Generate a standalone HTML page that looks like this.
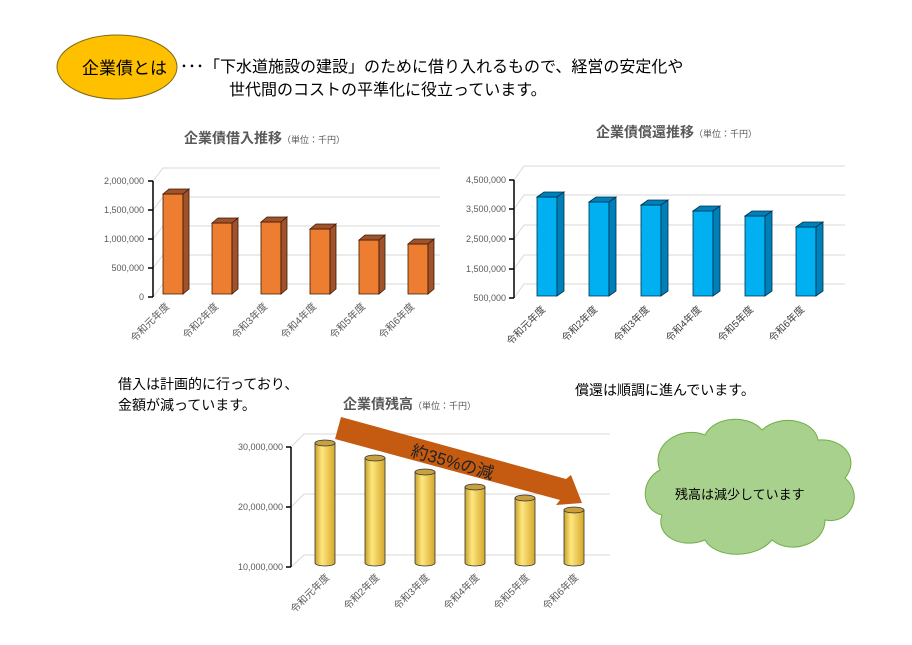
<!DOCTYPE html>
<html><head><meta charset="utf-8"><style>
body{margin:0;background:#fff}
svg{display:block;font-family:"Liberation Sans","Noto Sans CJK JP",sans-serif}
</style></head><body>
<svg width="912" height="645" viewBox="0 0 912 645">
<defs>
<linearGradient id="cyl" x1="0" x2="1"><stop offset="0" stop-color="#c9a227"/><stop offset="0.35" stop-color="#ffe680"/><stop offset="1" stop-color="#d4a82a"/></linearGradient>
</defs>
<ellipse cx="117" cy="67" rx="60" ry="32" fill="#ffc000" stroke="#7f6a1a" stroke-width="1"/>
<text x="82" y="74" font-size="17">企業債とは</text>
<text x="180" y="72" font-size="16">･･･「下水道施設の建設」のために借り入れるもので、経営の安定化や</text>
<text x="229" y="95" font-size="16">世代間のコストの平準化に役立っています。</text>

<!-- Chart 1 -->
<text x="184" y="143" font-size="14" font-weight="bold" fill="#595959">企業債借入推移<tspan font-size="9" font-weight="normal">（単位：千円）</tspan></text>
<g stroke="#d9d9d9" stroke-width="1" fill="none">
<path d="M153 181 L163 168 H440 M153 210 L163 197 H440 M153 239 L163 226 H440 M153 268 L163 255 H440 M153 297 L163 284 H440"/>
</g>
<path d="M153 181 V297 M148 181 H153 M148 210 H153 M148 239 H153 M148 268 H153 M148 297 H153" stroke="#000" stroke-width="1.5" fill="none"/>
<g font-size="9" fill="#595959" text-anchor="end">
<text x="144" y="184">2,000,000</text><text x="144" y="213">1,500,000</text><text x="144" y="242">1,000,000</text><text x="144" y="271">500,000</text><text x="144" y="300">0</text></g>
<g stroke="#3a1a00" stroke-width="0.8">
<path d="M163 194h20v100h-20z" fill="#ed7d31"/><path d="M163 194l6-5h20l-6 5z M183 194l6-5v100l-6 5z" fill="#a0522d"/>
<path d="M212 223h20v71h-20z" fill="#ed7d31"/><path d="M212 223l6-5h20l-6 5z M232 223l6-5v71l-6 5z" fill="#a0522d"/>
<path d="M261 222h20v72h-20z" fill="#ed7d31"/><path d="M261 222l6-5h20l-6 5z M281 222l6-5v72l-6 5z" fill="#a0522d"/>
<path d="M310 229h20v65h-20z" fill="#ed7d31"/><path d="M310 229l6-5h20l-6 5z M330 229l6-5v65l-6 5z" fill="#a0522d"/>
<path d="M359 240h20v54h-20z" fill="#ed7d31"/><path d="M359 240l6-5h20l-6 5z M379 240l6-5v54l-6 5z" fill="#a0522d"/>
<path d="M408 244h20v50h-20z" fill="#ed7d31"/><path d="M408 244l6-5h20l-6 5z M428 244l6-5v50l-6 5z" fill="#a0522d"/>
</g>
<g font-size="10" fill="#595959" text-anchor="end">
<text transform="translate(170 307) rotate(-45)">令和元年度</text><text transform="translate(219 307) rotate(-45)">令和2年度</text><text transform="translate(268 307) rotate(-45)">令和3年度</text><text transform="translate(317 307) rotate(-45)">令和4年度</text><text transform="translate(366 307) rotate(-45)">令和5年度</text><text transform="translate(415 307) rotate(-45)">令和6年度</text></g>

<!-- Chart 2 -->
<text x="596" y="137" font-size="14" font-weight="bold" fill="#595959">企業債償還推移<tspan font-size="9" font-weight="normal">（単位：千円）</tspan></text>
<g stroke="#d9d9d9" stroke-width="1" fill="none">
<path d="M514 180 L524 166 H845 M514 209 L524 195 H845 M514 239 L524 225 H845 M514 269 L524 255 H845 M514 298 L524 284 H845"/></g>
<path d="M514 180 V298 M509 180 H514 M509 209 H514 M509 239 H514 M509 269 H514 M509 298 H514" stroke="#000" stroke-width="1.5" fill="none"/>
<g font-size="9" fill="#595959" text-anchor="end">
<text x="506" y="183">4,500,000</text><text x="506" y="212">3,500,000</text><text x="506" y="242">2,500,000</text><text x="506" y="272">1,500,000</text><text x="506" y="301">500,000</text></g>
<g stroke="#00304a" stroke-width="0.8">
<path d="M537 197h20v99h-20z" fill="#00b0f0"/><path d="M537 197l7-5h20l-7 5z M557 197l7-5v99l-7 5z" fill="#0080b8"/>
<path d="M589 202h20v94h-20z" fill="#00b0f0"/><path d="M589 202l7-5h20l-7 5z M609 202l7-5v94l-7 5z" fill="#0080b8"/>
<path d="M641 205h20v91h-20z" fill="#00b0f0"/><path d="M641 205l7-5h20l-7 5z M661 205l7-5v91l-7 5z" fill="#0080b8"/>
<path d="M693 211h20v85h-20z" fill="#00b0f0"/><path d="M693 211l7-5h20l-7 5z M713 211l7-5v85l-7 5z" fill="#0080b8"/>
<path d="M745 216h20v80h-20z" fill="#00b0f0"/><path d="M745 216l7-5h20l-7 5z M765 216l7-5v80l-7 5z" fill="#0080b8"/>
<path d="M796 227h20v69h-20z" fill="#00b0f0"/><path d="M796 227l7-5h20l-7 5z M816 227l7-5v69l-7 5z" fill="#0080b8"/>
</g>
<g font-size="10" fill="#404040" text-anchor="end">
<text transform="translate(546 310) rotate(-45)">令和元年度</text><text transform="translate(598 310) rotate(-45)">令和2年度</text><text transform="translate(650 310) rotate(-45)">令和3年度</text><text transform="translate(702 310) rotate(-45)">令和4年度</text><text transform="translate(754 310) rotate(-45)">令和5年度</text><text transform="translate(805 310) rotate(-45)">令和6年度</text></g>

<text x="118" y="389" font-size="14">借入は計画的に行っており、</text>
<text x="118" y="410" font-size="14">金額が減っています。</text>
<text x="575" y="395" font-size="14">償還は順調に進んでいます。</text>

<!-- Chart 3 -->
<text x="343" y="409" font-size="14" font-weight="bold" fill="#595959">企業債残高<tspan font-size="9" font-weight="normal">（単位：千円）</tspan></text>
<g stroke="#d9d9d9" stroke-width="1" fill="none">
<path d="M291 447 L304 434 H610 M291 507 L304 494 H610 M291 567 L304 555 H610"/></g>
<path d="M291 447 V567 M286 447 H291 M286 507 H291 M286 567 H291" stroke="#000" stroke-width="1.5" fill="none"/>
<g font-size="9" fill="#595959" text-anchor="end">
<text x="283" y="450">30,000,000</text><text x="283" y="510">20,000,000</text><text x="283" y="570">10,000,000</text></g>
<g stroke="#333" stroke-width="0.8">
<path d="M315 443v120a10 3 0 0 0 20 0v-120z" fill="url(#cyl)"/><ellipse cx="325" cy="443" rx="10" ry="3" fill="#c8a040"/>
<path d="M365 458v105a10 3 0 0 0 20 0v-105z" fill="url(#cyl)"/><ellipse cx="375" cy="458" rx="10" ry="3" fill="#c8a040"/>
<path d="M415 472v91a10 3 0 0 0 20 0v-91z" fill="url(#cyl)"/><ellipse cx="425" cy="472" rx="10" ry="3" fill="#c8a040"/>
<path d="M465 487v76a10 3 0 0 0 20 0v-76z" fill="url(#cyl)"/><ellipse cx="475" cy="487" rx="10" ry="3" fill="#c8a040"/>
<path d="M515 498v65a10 3 0 0 0 20 0v-65z" fill="url(#cyl)"/><ellipse cx="525" cy="498" rx="10" ry="3" fill="#c8a040"/>
<path d="M564 510v53a10 3 0 0 0 20 0v-53z" fill="url(#cyl)"/><ellipse cx="574" cy="510" rx="10" ry="3" fill="#c8a040"/>
</g>
<g font-size="10" fill="#595959" text-anchor="end">
<text transform="translate(330 578) rotate(-45)">令和元年度</text><text transform="translate(380 578) rotate(-45)">令和2年度</text><text transform="translate(430 578) rotate(-45)">令和3年度</text><text transform="translate(480 578) rotate(-45)">令和4年度</text><text transform="translate(530 578) rotate(-45)">令和5年度</text><text transform="translate(579 578) rotate(-45)">令和6年度</text></g>
<!-- arrow -->
<polygon points="341,417 566,479 571,475 582,503 556,505 560,500 335,439" fill="#c55a11"/>
<text transform="translate(410 456) rotate(16)" font-size="17" fill="#222">約35%の減</text>

<!-- cloud -->
<path d="M660 470 C650 445 680 425 705 435 C715 415 750 415 762 430 C780 413 815 420 818 440 C845 438 860 460 845 478 C865 495 850 525 825 520 C825 545 790 555 772 540 C755 560 715 558 705 540 C680 550 655 535 662 515 C640 510 640 480 660 470 Z" fill="#a9d18e" stroke="#70ad47" stroke-width="1"/>
<text x="675" y="499" font-size="13">残高は減少しています</text>
</svg>
</body></html>
